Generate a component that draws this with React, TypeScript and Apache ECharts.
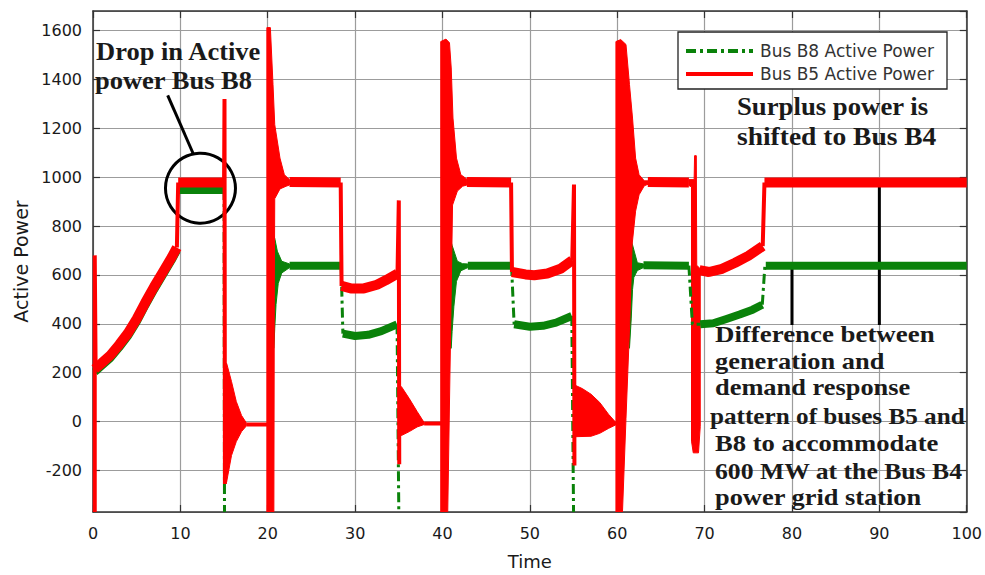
import React, { useEffect, useRef } from 'react';
import * as echarts from 'echarts';

type Pt = [number, number];

// Axis layout values
const timeRange = [0, 100];
const powerRange = [-370, 1680];
const powerTicks = [-200, 0, 200, 400, 600, 800, 1000, 1200, 1400, 1600];
const legendNames = ['Bus B8 Active Power', 'Bus B5 Active Power'];

// ---- Bus B5 (red): settled and slowly varying stretches ----
const b5Rise: Pt[] = [[0.2, 215], [1, 240], [2, 272], [3, 315], [4, 362], [5, 420], [6, 488], [7, 552], [8, 612], [9, 672], [9.6, 712]];
const b5Hold10: Pt[] = [[9.75, 978], [15.0, 978]];
const b5Hold22: Pt[] = [[22.5, 980], [28.35, 978]];
const b5Dip28: Pt[] = [[28.45, 555], [29.5, 545], [31, 545], [32.5, 560], [33.5, 578], [34.85, 605]];
const b5Hold43: Pt[] = [[42.8, 980], [47.85, 978]];
const b5Dip48: Pt[] = [[47.95, 612], [49.5, 602], [50.5, 599], [52, 606], [53.5, 625], [54.85, 660]];
const b5Hold63: Pt[] = [[63.5, 980], [68.2, 978]];
const b5Dip69: Pt[] = [[69.4, 620], [70.5, 612], [72, 625], [73.5, 650], [75, 678], [76.65, 718]];
const b5Hold77: Pt[] = [[76.85, 978], [100, 978]];

// ---- Bus B5: switching edges and spikes ----
const b5Edges: Pt[][] = [
  [[0.2, -370], [0.2, 680], [0.3, 215]],
  [[9.6, 712], [9.75, 978]],
  [[15.0, 978], [15.05, 1320], [15.1, -255]],
  [[17.6, -12], [19.95, -12]],
  [[28.35, 978], [28.45, 555]],
  [[34.85, 605], [35.0, 905], [35.05, -175]],
  [[37.9, -8], [39.85, -8]],
  [[47.85, 978], [47.95, 612]],
  [[54.85, 660], [55.05, 970], [55.1, -180]],
  [[59.8, -8], [59.9, -8]],
  [[76.65, 718], [76.85, 978]],
];

// ---- Bus B5: oscillation envelopes after each switching event ----
const b5Burst15: Pt[] = [[15.1, 240], [15.3, 238], [15.85, 164], [16.4, 82], [17.0, 25], [17.6, -8], [17.6, -16], [17.0, -41], [16.4, -82], [15.85, -139], [15.3, -246], [15.1, -255]];
const b5Burst20: Pt[] = [[19.9, -370], [19.9, 1612], [20.3, 1612], [20.6, 1380], [20.8, 1215], [21.4, 1078], [21.9, 1010], [22.5, 990], [22.5, 968], [22.1, 963], [21.4, 952], [20.8, 912], [20.75, 500], [20.7, -370]];
const b5Burst35: Pt[] = [[35.05, 150], [35.3, 143], [36.2, 94], [37.1, 41], [37.9, -4], [37.9, -12], [37.1, -22], [36.2, -41], [35.3, -57], [35.05, -60]];
const b5Burst40: Pt[] = [[39.8, -370], [39.8, 1555], [40.4, 1565], [40.8, 1550], [41.0, 1447], [41.2, 1242], [41.6, 1078], [42.1, 1010], [42.8, 992], [42.8, 968], [42.3, 963], [41.7, 943], [41.15, 886], [40.9, 300], [40.6, -370]];
const b5Burst55: Pt[] = [[55.1, 150], [56, 135], [57, 112], [58, 78], [59, 30], [59.8, -2], [59.8, -14], [59, -28], [58, -48], [57, -60], [55.1, -62]];
const b5Burst60: Pt[] = [[59.85, -370], [59.85, 1555], [60.4, 1563], [61.0, 1543], [61.4, 1379], [61.75, 1242], [62.1, 1078], [62.5, 1010], [63.1, 985], [63.6, 985], [63.6, 972], [63.1, 965], [62.5, 928], [62.1, 861], [61.7, 723], [61.45, 422], [61.0, 12], [60.6, -370]];
const b5Burst68: Pt[] = [[68.2, 990], [68.8, 990], [68.85, 1088], [69.05, 1088], [69.1, 640], [69.5, 625], [69.5, -20], [69.3, -128], [68.7, -128], [68.5, -80], [68.5, 960], [68.2, 966]];

// ---- Bus B8 (green): settled and slowly varying stretches ----
const b8Rise: Pt[] = [[0.2, 203], [1, 228], [2, 260], [3, 303], [4, 350], [5, 408], [6, 476], [7, 540], [8, 600], [9, 660], [9.6, 700]];
const b8Hold10: Pt[] = [[9.75, 948], [15.0, 948]];
const b8Hold22: Pt[] = [[22.5, 638], [28.4, 638]];
const b8Dip28: Pt[] = [[28.6, 360], [30, 350], [31.5, 355], [33, 370], [34.8, 398]];
const b8Hold43: Pt[] = [[42.9, 638], [47.9, 638]];
const b8Dip48: Pt[] = [[48.2, 398], [50, 388], [51.5, 392], [53, 405], [54.8, 432]];
const b8Hold63: Pt[] = [[63, 640], [68.2, 638]];
const b8Dip69: Pt[] = [[69.5, 398], [71, 402], [72.5, 420], [74, 438], [75.5, 458], [76.6, 478]];
const b8Hold77: Pt[] = [[77, 638], [100, 638]];

// ---- Bus B8: switching edges ----
const b8Edges: Pt[][] = [
  [[15.0, 948], [15.05, -370]],
  [[28.4, 638], [28.6, 360]],
  [[34.8, 398], [35.0, -370]],
  [[47.9, 638], [48.2, 398]],
  [[54.8, 432], [55.0, -370]],
  [[68.2, 638], [68.6, 398], [69.5, 398]],
  [[76.6, 478], [76.9, 638], [77, 638]],
];

// ---- Bus B8: oscillation envelopes ----
const b8Burst20: Pt[] = [[20.5, 780], [20.8, 750], [21.1, 697], [21.6, 656], [22.5, 645], [22.5, 630], [21.6, 608], [21.2, 565], [20.95, 480], [20.8, 381], [20.7, 300], [20.5, 300]];
const b8Burst40: Pt[] = [[40.8, 760], [41.1, 721], [41.7, 656], [42.3, 646], [42.9, 645], [42.9, 630], [42.1, 617], [41.6, 574], [41.3, 470], [41.1, 369], [41.0, 300], [40.8, 300]];
const b8Burst60: Pt[] = [[61.4, 760], [61.75, 723], [62.3, 650], [63, 645], [63, 630], [62.3, 618], [61.9, 590], [61.75, 540], [61.6, 420], [61.4, 300]];

// ---- Annotation marks (data coordinates) ----
const gapMarkers: Pt[][] = [
  [[80, 625], [80, 395]],
  [[90, 965], [90, 395]],
];
const dropCircle: Pt[] = [[12.3, 955]];
const dropPointer: Pt[] = [[8.55, 1335], [11.45, 1098]];

const b5Bursts = [b5Burst15, b5Burst20, b5Burst35, b5Burst40, b5Burst55, b5Burst60, b5Burst68];
const b8Bursts = [b8Burst20, b8Burst40, b8Burst60];
const b5Stretches = [b5Rise, b5Hold10, b5Hold22, b5Dip28, b5Hold43, b5Dip48, b5Hold63, b5Dip69, b5Hold77];
const b8Stretches = [b8Rise, b8Hold10, b8Hold22, b8Dip28, b8Hold43, b8Dip48, b8Hold63, b8Dip69, b8Hold77];

const RED = '#ff0000';
const GREEN = '#0a820a';
const INK = '#1a1a1a';
const DASH_DOT = [10, 4, 3, 4];
const SANS = '"DejaVu Sans", sans-serif';

const withGaps = (segs: Pt[][]) =>
  segs.flatMap((s, i) => (i ? [['-', '-'], ...s] : s)) as any[];

const polygonSeries = (polys: Pt[][], color: string) => ({
  type: 'custom',
  coordinateSystem: 'cartesian2d',
  silent: true,
  clip: true,
  data: polys.map((p) => [p[0][0], p[0][1]]),
  encode: { x: 0, y: 1 },
  renderItem: (params: any, api: any) => ({
    type: 'polygon',
    shape: { points: polys[params.dataIndex].map((pt) => api.coord(pt)) },
    style: { fill: color, stroke: color, lineWidth: 1 },
  }),
});

const serifBold = (size: number) => `bold ${size}px "Liberation Serif", "Times New Roman", serif`;

const noteLines = [
  { text: 'Drop in Active', x: 96, y: 64, size: 25, sx: 1.06 },
  { text: 'power Bus B8', x: 95, y: 93, size: 25, sx: 1.06 },
  { text: 'Surplus power is', x: 737, y: 119, size: 25, sx: 1.07 },
  { text: 'shifted to Bus B4', x: 737, y: 149, size: 25, sx: 1.1 },
  { text: 'Difference between', x: 715, y: 346, size: 24, sx: 1.12 },
  { text: 'generation and', x: 715, y: 373, size: 24, sx: 1.1 },
  { text: 'demand response', x: 715, y: 399, size: 24, sx: 1.1 },
  { text: 'pattern of buses B5 and', x: 710, y: 428, size: 24, sx: 1.05 },
  { text: 'B8 to accommodate', x: 715, y: 454, size: 24, sx: 1.11 },
  { text: '600 MW at the Bus B4', x: 715, y: 483, size: 24, sx: 1.07 },
  { text: 'power grid station', x: 715, y: 509, size: 24, sx: 1.1 },
];

// Boxed key in the upper right corner of the plot
const legendGraphic = () => {
  const box = { x: 678, y: 32, w: 269, h: 57 };
  const rows = [
    { name: legendNames[0], color: GREEN, dash: DASH_DOT, y: 51 },
    { name: legendNames[1], color: RED, dash: null, y: 74 },
  ];
  return [
    {
      type: 'rect',
      z: 100,
      shape: { x: box.x, y: box.y, width: box.w, height: box.h },
      style: { fill: '#ffffff', stroke: '#222', lineWidth: 1.3 },
    },
    ...rows.flatMap((r) => [
      {
        type: 'line',
        z: 101,
        shape: { x1: 686, y1: r.y, x2: 753, y2: r.y },
        style: { stroke: r.color, lineWidth: 4, lineDash: r.dash || undefined },
      },
      {
        type: 'text',
        z: 101,
        x: 760,
        y: r.y,
        style: { text: r.name, font: `17px ${SANS}`, fill: '#333', verticalAlign: 'middle' },
      },
    ]),
  ];
};

export default function App() {
  const ref = useRef<HTMLDivElement>(null);

  useEffect(() => {
    document.body.style.margin = '0';
    const chart = echarts.init(ref.current!, null, { renderer: 'svg' });

    const frameLine = { show: true, onZero: false, lineStyle: { color: '#333', width: 1.5 } };
    const innerTick = { show: true, inside: true, length: 7, lineStyle: { color: '#333', width: 1.2 } };

    chart.setOption({
      animation: false,
      backgroundColor: '#ffffff',
      grid: { left: 93, right: 16, top: 11, bottom: 62 },
      xAxis: [
        {
          type: 'value',
          min: timeRange[0],
          max: timeRange[1],
          interval: 10,
          name: 'Time',
          nameLocation: 'middle',
          nameGap: 40,
          nameTextStyle: { fontFamily: SANS, fontSize: 18, color: INK },
          axisLine: frameLine,
          axisTick: innerTick,
          axisLabel: { fontFamily: SANS, fontSize: 16, color: INK, margin: 13 },
          splitLine: { show: true, lineStyle: { color: '#9c9c9c', width: 1.2 } },
        },
        {
          type: 'value',
          position: 'top',
          min: timeRange[0],
          max: timeRange[1],
          interval: 10,
          axisLine: frameLine,
          axisTick: innerTick,
          axisLabel: { show: false },
          splitLine: { show: false },
        },
      ],
      yAxis: [
        {
          type: 'value',
          min: powerRange[0],
          max: powerRange[1],
          splitNumber: 10,
          minInterval: 200,
          maxInterval: 200,
          name: 'Active Power',
          nameLocation: 'middle',
          nameGap: 60,
          nameTextStyle: { fontFamily: SANS, fontSize: 19, color: INK },
          axisLine: frameLine,
          axisTick: innerTick,
          axisLabel: {
            fontFamily: SANS,
            fontSize: 16,
            color: INK,
            margin: 11,
            showMinLabel: false,
            showMaxLabel: false,
            formatter: (v: number) => (powerTicks.includes(v) ? String(v) : ''),
          },
          splitLine: { show: true, lineStyle: { color: '#9c9c9c', width: 1.2 } },
        },
        {
          type: 'value',
          position: 'right',
          min: powerRange[0],
          max: powerRange[1],
          splitNumber: 10,
          minInterval: 200,
          maxInterval: 200,
          axisLine: frameLine,
          axisTick: innerTick,
          axisLabel: { show: false },
          splitLine: { show: false },
        },
      ],
      series: [
        {
          name: 'gap markers',
          type: 'line',
          data: withGaps(gapMarkers),
          symbol: 'none',
          lineStyle: { color: '#000', width: 3 },
          silent: true,
        },
        {
          name: 'B8 band',
          type: 'line',
          data: withGaps(b8Stretches),
          symbol: 'none',
          lineStyle: { color: GREEN, width: 8 },
          silent: true,
        },
        polygonSeries(b8Bursts, GREEN),
        {
          name: legendNames[0],
          type: 'line',
          data: withGaps(b8Edges),
          symbol: 'none',
          lineStyle: { color: GREEN, width: 3, type: DASH_DOT },
          silent: true,
        },
        polygonSeries(b5Bursts, RED),
        {
          name: 'B5 band',
          type: 'line',
          data: withGaps(b5Stretches),
          symbol: 'none',
          lineStyle: { color: RED, width: 10 },
          silent: true,
        },
        {
          name: legendNames[1],
          type: 'line',
          data: withGaps(b5Edges),
          symbol: 'none',
          lineStyle: { color: RED, width: 4 },
          silent: true,
        },
        {
          name: 'drop pointer',
          type: 'line',
          data: dropPointer,
          symbol: 'none',
          lineStyle: { color: '#000', width: 3 },
          silent: true,
        },
        {
          name: 'drop circle',
          type: 'scatter',
          data: dropCircle,
          symbol: 'circle',
          symbolSize: 70,
          itemStyle: { color: 'rgba(0,0,0,0)', borderColor: '#000', borderWidth: 3, opacity: 1 },
          silent: true,
        },
      ],
      graphic: [
        ...legendGraphic(),
        ...noteLines.map((n) => ({
          type: 'text',
          x: n.x,
          y: n.y,
          scaleX: n.sx,
          z: 100,
          style: {
            text: n.text,
            font: serifBold(n.size),
            fill: INK,
            verticalAlign: 'bottom',
          },
        })),
      ],
    });

    return () => chart.dispose();
  }, []);

  return (
    <div
      ref={ref}
      style={{ position: 'fixed', left: 0, top: 0, width: 985, height: 575, background: '#fff' }}
    />
  );
}
